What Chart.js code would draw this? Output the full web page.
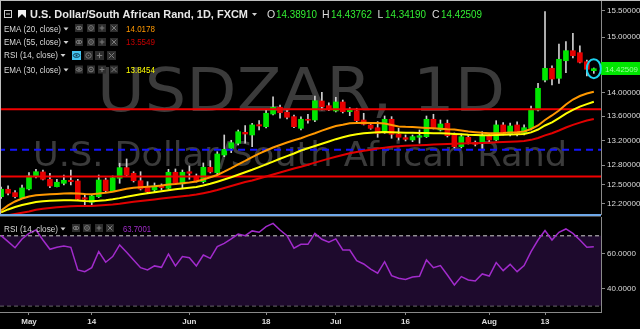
<!DOCTYPE html>
<html><head><meta charset="utf-8">
<script src="https://cdn.jsdelivr.net/npm/chart.js@4/dist/chart.umd.min.js"></script>
<style>
html,body{margin:0;padding:0;background:#000;overflow:hidden;}
#wrap{position:relative;width:640px;height:329px;background:#000;}
#c1{position:absolute;left:0;top:0;width:640px;height:215px;}
#c2{position:absolute;left:0;top:215px;width:640px;height:114px;}
</style></head><body>
<div id="wrap"><canvas id="c1" width="640" height="215"></canvas><canvas id="c2" width="640" height="114"></canvas></div>
<script>
const dates = ['2018-04-25','2018-04-26','2018-04-27','2018-04-30','2018-05-01','2018-05-02','2018-05-03','2018-05-04','2018-05-07','2018-05-08','2018-05-09','2018-05-10','2018-05-11','2018-05-14','2018-05-15','2018-05-16','2018-05-17','2018-05-18','2018-05-21','2018-05-22','2018-05-23','2018-05-24','2018-05-25','2018-05-28','2018-05-29','2018-05-30','2018-05-31','2018-06-01','2018-06-04','2018-06-05','2018-06-06','2018-06-07','2018-06-08','2018-06-11','2018-06-12','2018-06-13','2018-06-14','2018-06-15','2018-06-18','2018-06-19','2018-06-20','2018-06-21','2018-06-22','2018-06-25','2018-06-26','2018-06-27','2018-06-28','2018-06-29','2018-07-02','2018-07-03','2018-07-04','2018-07-05','2018-07-06','2018-07-09','2018-07-10','2018-07-11','2018-07-12','2018-07-13','2018-07-16','2018-07-17','2018-07-18','2018-07-19','2018-07-20','2018-07-23','2018-07-24','2018-07-25','2018-07-26','2018-07-27','2018-07-30','2018-07-31','2018-08-01','2018-08-02','2018-08-03','2018-08-06','2018-08-07','2018-08-08','2018-08-09','2018-08-10','2018-08-13','2018-08-14','2018-08-15','2018-08-16','2018-08-17','2018-08-20','2018-08-21','2018-08-22'];

const open = [12.310,12.424,12.372,12.295,12.428,12.619,12.693,12.578,12.464,12.516,
12.562,12.552,12.295,12.225,12.310,12.567,12.402,12.594,12.761,12.672,
12.556,12.455,12.413,12.475,12.439,12.688,12.506,12.697,12.630,12.541,
12.767,12.682,12.963,13.071,13.152,13.332,13.288,13.459,13.425,13.638,
13.752,13.667,13.593,13.398,13.549,13.537,13.859,13.779,13.689,13.842,
13.677,13.694,13.537,13.454,13.408,13.326,13.549,13.304,13.244,13.206,
13.250,13.260,13.549,13.370,13.482,13.288,13.097,13.250,13.168,13.152,
13.288,13.206,13.454,13.299,13.454,13.316,13.398,13.706,14.224,14.432,
14.254,14.568,14.750,14.714,14.550,14.38910];

const high = [12.459,12.475,12.402,12.490,12.682,12.735,12.724,12.672,12.578,12.645,
12.724,12.578,12.352,12.337,12.645,12.598,12.630,12.831,12.899,12.697,
12.697,12.541,12.521,12.506,12.735,12.740,12.724,12.788,12.661,12.835,
12.872,13.016,13.288,13.201,13.370,13.442,13.482,13.525,13.718,13.933,
13.791,13.706,13.621,13.588,13.633,13.945,14.009,13.829,13.923,13.876,
13.745,13.735,13.650,13.482,13.509,13.604,13.593,13.398,13.288,13.288,
13.370,13.604,13.633,13.537,13.537,13.321,13.304,13.288,13.190,13.342,
13.316,13.525,13.493,13.487,13.504,13.454,13.774,14.166,15.481,14.474,
14.870,14.916,15.072,14.837,14.581,14.43762];

const low = [12.283,12.337,12.291,12.283,12.413,12.598,12.567,12.449,12.459,12.490,
12.490,12.260,12.169,12.169,12.298,12.382,12.398,12.516,12.630,12.536,
12.413,12.367,12.387,12.413,12.428,12.498,12.439,12.578,12.536,12.521,
12.677,12.645,12.936,13.000,13.124,13.152,13.097,13.370,13.404,13.621,
13.566,13.554,13.408,13.370,13.482,13.509,13.706,13.694,13.672,13.655,
13.610,13.504,13.454,13.382,13.250,13.316,13.234,13.206,13.190,13.178,
13.152,13.247,13.387,13.354,13.255,13.076,13.076,13.141,13.108,13.071,
13.178,13.190,13.288,13.271,13.271,13.288,13.370,13.689,14.189,14.136,
14.166,14.354,14.617,14.528,14.295,14.34190];

const close = [12.424,12.363,12.310,12.444,12.630,12.697,12.578,12.475,12.532,12.562,
12.541,12.271,12.271,12.321,12.567,12.402,12.603,12.761,12.645,12.556,
12.428,12.387,12.475,12.449,12.688,12.516,12.688,12.672,12.556,12.767,
12.693,12.979,13.054,13.162,13.342,13.304,13.454,13.437,13.650,13.752,
13.660,13.583,13.425,13.549,13.532,13.864,13.762,13.706,13.842,13.677,
13.706,13.525,13.465,13.398,13.316,13.549,13.299,13.250,13.217,13.260,
13.276,13.549,13.408,13.470,13.276,13.097,13.260,13.168,13.136,13.271,
13.206,13.454,13.299,13.437,13.304,13.408,13.718,14.079,14.432,14.242,
14.594,14.750,14.659,14.540,14.415,14.42509];

const ema20 = [12.102,12.177,12.237,12.283,12.314,12.332,12.341,12.349,12.353,12.358,
12.361,12.359,12.352,12.349,12.358,12.370,12.385,12.408,12.431,12.447,
12.456,12.462,12.470,12.481,12.496,12.505,12.518,12.527,12.544,12.575,
12.609,12.645,12.697,12.753,12.813,12.869,12.929,12.985,13.035,13.084,
13.123,13.164,13.201,13.234,13.277,13.316,13.360,13.400,13.435,13.457,
13.482,13.487,13.490,13.488,13.485,13.477,13.454,13.430,13.422,13.418,
13.412,13.405,13.398,13.392,13.383,13.377,13.362,13.345,13.334,13.324,
13.318,13.318,13.321,13.327,13.332,13.345,13.387,13.445,13.537,13.613,
13.698,13.800,13.885,13.945,13.988,14.0178];

const ema30 = [12.072,12.117,12.154,12.185,12.207,12.230,12.240,12.248,12.252,12.255,
12.257,12.252,12.245,12.242,12.248,12.257,12.271,12.288,12.309,12.329,
12.347,12.363,12.378,12.393,12.410,12.424,12.436,12.447,12.459,12.482,
12.508,12.541,12.575,12.611,12.649,12.688,12.727,12.769,12.812,12.857,
12.902,12.944,12.987,13.035,13.072,13.108,13.144,13.181,13.219,13.250,
13.280,13.299,13.316,13.326,13.332,13.336,13.334,13.329,13.326,13.324,
13.321,13.321,13.318,13.316,13.311,13.304,13.298,13.291,13.288,13.285,
13.285,13.288,13.291,13.296,13.299,13.304,13.331,13.378,13.445,13.497,
13.569,13.645,13.709,13.764,13.806,13.8454];

const ema55 = [12.012,12.030,12.049,12.067,12.087,12.112,12.129,12.139,12.150,12.159,
12.166,12.169,12.169,12.169,12.177,12.184,12.192,12.204,12.219,12.233,
12.245,12.257,12.269,12.281,12.295,12.307,12.318,12.329,12.343,12.363,
12.385,12.413,12.444,12.475,12.506,12.536,12.559,12.591,12.622,12.653,
12.684,12.716,12.748,12.776,12.808,12.840,12.872,12.904,12.934,12.963,
12.992,13.011,13.030,13.048,13.066,13.080,13.094,13.103,13.110,13.115,
13.120,13.125,13.131,13.138,13.142,13.146,13.149,13.152,13.154,13.157,
13.162,13.168,13.173,13.178,13.183,13.190,13.208,13.239,13.281,13.316,
13.362,13.412,13.455,13.493,13.527,13.5549];

const rsi = [70.1,66.7,63.2,68.2,71.4,73.3,67.6,62.3,63.4,64.2,
63.4,50.5,49.5,51.8,61.0,54.9,58.1,64.8,60.6,56.2,
51.8,50.5,52.8,52.0,59.6,52.8,58.1,57.5,52.8,59.0,
57.1,63.8,65.7,68.2,71.0,70.1,72.8,72.0,75.2,77.1,
73.3,70.1,62.9,65.1,65.1,71.4,68.0,66.3,68.2,61.9,
61.9,55.8,53.9,51.0,48.6,55.2,47.2,45.7,45.1,46.5,
46.9,56.2,51.8,53.0,47.6,41.9,46.7,44.8,44.2,48.2,
47.0,54.7,50.1,53.7,49.5,53.0,61.0,67.6,73.0,67.6,
72.0,73.9,71.4,67.6,63.4,63.7001];

const redLevels = [13.72, 12.62];
const blueLevels = [13.045];
const priceTicks = [12.2, 12.5, 12.8, 13.2, 13.6, 14.0, 15.0, 15.5];
const rsiTicks = [40, 60];
const rsiBands = [70, 30];
const timeTickDates = ['2018-05-01','2018-05-14','2018-06-01','2018-06-18','2018-07-02','2018-07-16','2018-08-01','2018-08-13'];
const timeTickLabels = ['May','14','Jun','18','Jul','16','Aug','13'];

const idx = dates.map((_, i) => i);
const last = dates.length - 1;
const timeTickIdx = timeTickDates.map(d => dates.indexOf(d));
const X_MIN = -0.158, X_MAX = 86.03;
const F = 'Liberation Sans';
const GREEN = '#00e600', RED = '#e60000';

function fitText(ctx, s, x, y, font, color, w, align) {
  ctx.save();
  ctx.font = font; ctx.fillStyle = color; ctx.textBaseline = 'alphabetic';
  ctx.textAlign = align || 'left';
  ctx.translate(x, y);
  if (w) { const m = ctx.measureText(s).width; ctx.scale(w / m, 1); }
  ctx.fillText(s, 0, 0);
  ctx.restore();
}
function tri(ctx, x, y, color) {
  ctx.fillStyle = color; ctx.beginPath();
  ctx.moveTo(x, y); ctx.lineTo(x + 5, y); ctx.lineTo(x + 2.5, y + 3); ctx.closePath(); ctx.fill();
}
function icons(ctx, x0, y0, step, size, hi) {
  for (let k = 0; k < 4; k++) {
    const x = Math.round(x0 + k * step);
    const on = hi && k === 0;
    ctx.fillStyle = on ? '#45c4f0' : '#2e2e2e';
    ctx.fillRect(x, y0, size, size);
    const g = on ? '#0f3a50' : '#7c7c7c';
    ctx.strokeStyle = g; ctx.fillStyle = g; ctx.lineWidth = 1;
    const cx = x + size / 2, cy = y0 + size / 2, r = size * 0.3;
    ctx.beginPath();
    if (k === 0) { ctx.ellipse(cx, cy, r + 0.5, r * 0.7, 0, 0, Math.PI * 2); ctx.stroke(); ctx.beginPath(); ctx.arc(cx, cy, 1, 0, Math.PI * 2); ctx.fill(); }
    else if (k === 1) { ctx.arc(cx, cy, r, 0, Math.PI * 2); ctx.stroke(); ctx.beginPath(); ctx.arc(cx, cy, 0.8, 0, Math.PI * 2); ctx.fill(); }
    else if (k === 2) { ctx.moveTo(cx - r, cy); ctx.lineTo(cx + r, cy); ctx.moveTo(cx, cy - r); ctx.lineTo(cx, cy + r); ctx.stroke(); }
    else { ctx.moveTo(cx - r, cy - r); ctx.lineTo(cx + r, cy + r); ctx.moveTo(cx + r, cy - r); ctx.lineTo(cx - r, cy + r); ctx.stroke(); }
  }
}

const decor1 = {
  id: 'decor1',
  beforeDatasetsDraw(chart) {
    const ctx = chart.ctx, a = chart.chartArea;
    ctx.save();
    ctx.beginPath(); ctx.rect(a.left, a.top, a.right - a.left, a.bottom - a.top); ctx.clip();
    fitText(ctx, 'USDZAR, 1D', 301, 111, '60px "DejaVu Sans"', '#3b3b3b', 408, 'center');
    fitText(ctx, 'U.S. Dollar/South African Rand', 300, 166, '34px "DejaVu Sans"', '#3b3b3b', 534, 'center');
    ctx.restore();
  },
  afterDraw(chart) {
    const ctx = chart.ctx, a = chart.chartArea, xs = chart.scales.x, ys = chart.scales.y;
    ctx.save();
    // frame
    ctx.fillStyle = '#bdbdbd'; ctx.fillRect(0, 0, 640, 1); ctx.fillRect(0, 0, 1, a.bottom);
    ctx.fillStyle = '#6fa8e8'; ctx.fillRect(0, a.bottom - 1, a.right, 1);
    // header row
    ctx.strokeStyle = '#d0d0d0'; ctx.lineWidth = 1;
    ctx.strokeRect(4.5, 10.5, 7, 7);
    ctx.beginPath(); ctx.moveTo(6, 14); ctx.lineTo(10, 14); ctx.stroke();
    ctx.fillStyle = '#f0f0f0'; ctx.beginPath();
    ctx.moveTo(18, 10); ctx.lineTo(26, 10); ctx.lineTo(26, 18); ctx.lineTo(22, 14); ctx.lineTo(18, 18); ctx.closePath(); ctx.fill();
    fitText(ctx, 'U.S. Dollar/South African Rand, 1D, FXCM', 30, 18, 'bold 11px "' + F + '"', '#e8e8e8', 218);
    tri(ctx, 252, 13, '#d0d0d0');
    const ohlc = [['O', open[last], 267, 276], ['H', high[last], 322, 331], ['L', low[last], 377.5, 385], ['C', close[last], 432, 441]];
    ohlc.forEach(([k, v, xl, xv]) => {
      fitText(ctx, k, xl, 18, '10.5px "' + F + '"', '#dcdcdc');
      fitText(ctx, v.toFixed(5), xv, 18, '10.5px "' + F + '"', '#33ee33', 41);
    });
    // legend rows
    const rows = [
      ['EMA (20, close)', 31.5, 24, ema20[last].toFixed(4), '#ff9800', false],
      ['EMA (55, close)', 45, 38, ema55[last].toFixed(4), '#c80000', false],
      ['RSI (14, close)', 58, 51, null, null, true],
      ['EMA (30, close)', 72.5, 65.5, ema30[last].toFixed(4), '#ffff00', false]
    ];
    rows.forEach(([t, yb, yi, val, col, hi]) => {
      fitText(ctx, t, 4, yb, '8.5px "' + F + '"', '#d8d8d8', hi ? 54 : 57);
      tri(ctx, hi ? 60.5 : 63.5, yb - 4, '#d0d0d0');
      if (hi) icons(ctx, 72, yi, 11.6, 9, true); else icons(ctx, 75, yi, 11.6, 8, false);
      if (val) fitText(ctx, val, 126, yb, '8.5px "' + F + '"', col, 29);
    });
    // last price label
    const yl = ys.getPixelForValue(close[last]);
    ctx.fillStyle = '#00e600'; ctx.fillRect(a.right, Math.round(yl) - 7, 640 - a.right, 13);
    fitText(ctx, close[last].toFixed(5), a.right + 4, Math.round(yl) + 3, '8px "' + F + '"', '#9dff9d', 33);
    // highlight ring on last bar
    ctx.strokeStyle = '#1ed2f0'; ctx.lineWidth = 2;
    ctx.beginPath(); ctx.ellipse(xs.getPixelForValue(last), yl, 7, 9.5, 0, 0, Math.PI * 2); ctx.stroke();
    ctx.restore();
  }
};

const lineDs = (arr, color, w) => ({ type: 'line', data: idx.map(i => ({ x: i, y: arr[i] })), borderColor: color, borderWidth: w, pointRadius: 0, tension: 0, order: 1 });
const levelDs = (v, color, dash) => ({ type: 'line', data: [{ x: X_MIN - 2, y: v }, { x: X_MAX + 2, y: v }], borderColor: color, borderWidth: 2, borderDash: dash || [], pointRadius: 0, order: 2 });

new Chart(document.getElementById('c1'), {
  type: 'bar',
  data: { datasets: [
    lineDs(ema20, '#ff9800', 2),
    lineDs(ema30, '#ffff00', 2),
    lineDs(ema55, '#e00000', 2),
    ...redLevels.map(v => levelDs(v, '#f20000')),
    ...blueLevels.map(v => levelDs(v, '#1414ff', [7, 5])),
    { type: 'bar', data: idx.map(i => ({ x: i, y: [open[i], close[i]] })), backgroundColor: idx.map(i => close[i] >= open[i] ? GREEN : RED), barThickness: 5, grouped: false, minBarLength: 1, borderWidth: 0, order: 3 },
    { type: 'bar', data: idx.map(i => ({ x: i, y: [low[i], high[i]] })), backgroundColor: '#cfcfcf', barThickness: 1, grouped: false, borderWidth: 0, order: 4 }
  ]},
  options: {
    responsive: false, animation: false, devicePixelRatio: 1,
    layout: { padding: 0 },
    plugins: { legend: { display: false }, tooltip: { enabled: false } },
    scales: {
      x: { type: 'linear', min: X_MIN, max: X_MAX, offset: false, bounds: 'data', display: false },
      y: { type: 'logarithmic', position: 'right', min: 12.034, max: 15.706, bounds: 'data', beginAtZero: false,
        afterBuildTicks: s => { s.ticks = priceTicks.map(v => ({ value: v })); },
        afterFit: s => { s.width = 39; s.paddingTop = 0; s.paddingBottom = 0; },
        ticks: { callback: v => Number(v).toFixed(5), color: '#dcdcdc', font: { family: F, size: 8 }, padding: 2, autoSkip: false },
        grid: { display: true, drawOnChartArea: false, drawTicks: true, tickLength: 4, color: '#8a8a8a' },
        border: { display: true, color: '#8a8a8a', width: 1 } }
    }
  },
  plugins: [decor1]
});

const decor2 = {
  id: 'decor2',
  afterDraw(chart) {
    const ctx = chart.ctx, a = chart.chartArea;
    ctx.save();
    ctx.fillStyle = '#6fa8e8'; ctx.fillRect(0, 0, a.right, 1);
    ctx.fillStyle = '#4a4a4a'; ctx.fillRect(0, 1, a.right, 1);
    fitText(ctx, 'RSI (14, close)', 4, 16.5, '8.5px "' + F + '"', '#d8d8d8', 54);
    tri(ctx, 60.5, 12.5, '#d0d0d0');
    icons(ctx, 72, 9, 11.3, 8, false);
    fitText(ctx, rsi[last].toFixed(4), 123, 16.5, '8.5px "' + F + '"', '#a12bc9', 28);
    ctx.restore();
  }
};

new Chart(document.getElementById('c2'), {
  type: 'line',
  data: { datasets: [
    { data: idx.map(i => ({ x: i, y: rsi[i] })), borderColor: '#a22bcc', borderWidth: 1.5, pointRadius: 0, tension: 0, order: 1 },
    { data: [{ x: X_MIN - 2, y: rsiBands[0] }, { x: X_MAX + 2, y: rsiBands[0] }], borderColor: '#cfcfcf', borderWidth: 1, borderDash: [4, 3], pointRadius: 0, fill: '+1', backgroundColor: '#1e0a2d', order: 2 },
    { data: [{ x: X_MIN - 2, y: rsiBands[1] }, { x: X_MAX + 2, y: rsiBands[1] }], borderColor: '#cfcfcf', borderWidth: 1, borderDash: [4, 3], pointRadius: 0, fill: false, order: 3 }
  ]},
  options: {
    responsive: false, animation: false, devicePixelRatio: 1,
    layout: { padding: { top: 2, left: 0, right: 0, bottom: 0 } },
    plugins: { legend: { display: false }, tooltip: { enabled: false } },
    scales: {
      x: { type: 'linear', min: X_MIN, max: X_MAX, bounds: 'data', offset: false, position: 'bottom',
        afterBuildTicks: s => { s.ticks = timeTickIdx.map(v => ({ value: v })); },
        afterFit: s => { s.height = 17; s.paddingLeft = 0; s.paddingRight = 0; },
        ticks: { autoSkip: false, maxRotation: 0, callback: v => timeTickLabels[timeTickIdx.indexOf(v)], color: '#dcdcdc', font: { family: F, size: 8, weight: 'bold' }, padding: 2 },
        grid: { display: true, drawOnChartArea: false, drawTicks: true, tickLength: 3, color: '#8a8a8a' },
        border: { display: true, color: '#8a8a8a' } },
      y: { position: 'right', min: 26.46, max: 80.74, bounds: 'data',
        afterBuildTicks: s => { s.ticks = rsiTicks.map(v => ({ value: v })); },
        afterFit: s => { s.width = 39; s.paddingTop = 0; s.paddingBottom = 0; },
        ticks: { callback: v => Number(v).toFixed(4), color: '#dcdcdc', font: { family: F, size: 8 }, padding: 2, autoSkip: false },
        grid: { display: true, drawOnChartArea: false, drawTicks: true, tickLength: 4, color: '#8a8a8a' },
        border: { display: true, color: '#8a8a8a' } }
    }
  },
  plugins: [decor2]
});
</script>
</body></html>
